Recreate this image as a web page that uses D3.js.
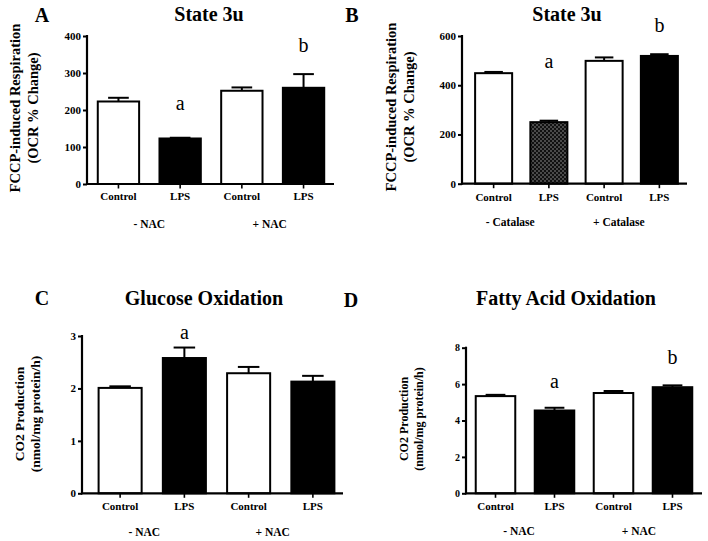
<!DOCTYPE html>
<html>
<head>
<meta charset="utf-8">
<script src="https://cdn.jsdelivr.net/npm/d3@7"></script>
<style>
  html, body { margin: 0; padding: 0; background: #fff; }
  svg { display: block; font-family: "Liberation Serif", "DejaVu Serif", serif; }
</style>
</head>
<body>
<svg id="chart" width="708" height="541"></svg>
<script>
// ---------------- data ----------------
const categories = ["Control", "LPS", "Control", "LPS"];

const titles = ["State 3u", "State 3u", "Glucose Oxidation", "Fatty Acid Oxidation"];
const panelLetters = ["A", "B", "C", "D"];
const groupsNAC = ["- NAC", "+ NAC"];
const groupsCatalase = ["- Catalase", "+ Catalase"];
const yLabelsA = ["FCCP-induced Respiration", "(OCR % Change)"];
const yLabelsC = ["CO2 Production", "(nmol/mg protein/h)"];

const ticksA = [0, 100, 200, 300, 400];
const ticksB = [0, 200, 400, 600];
const ticksC = [0, 1, 2, 3];
const ticksD = [0, 2, 4, 6, 8];

const meansA = [223, 123, 252, 260];
const errorsA = [10, 2, 9, 37];
const meansB = [449, 250, 499, 519];
const errorsB = [5, 6, 14, 7];
const meansC = [2.01, 2.58, 2.29, 2.13];
const errorsC = [0.03, 0.20, 0.12, 0.11];
const meansD = [5.34, 4.55, 5.51, 5.83];
const errorsD = [0.07, 0.15, 0.11, 0.10];

const fills = ["white", "black", "white", "black"];
const fillsB = ["white", "checker", "white", "black"];

const lettersA = ["", "a", "", "b"];
const lettersAAt = [0, 200, 0, 357];
const lettersB = ["", "a", "", "b"];
const lettersBAt = [0, 470, 0, 616];
const lettersC = ["", "a", "", ""];
const lettersCAt = [0, 2.94, 0, 0];
const lettersD = ["", "a", "", "b"];
const lettersDAt = [0, 5.78, 0, 7.1];

// ---------------- layout ----------------
const svg = d3.select("#chart");
const defs = svg.append("defs");
const pat = defs.append("pattern").attr("id", "checker")
  .attr("width", 4).attr("height", 4).attr("patternUnits", "userSpaceOnUse");
pat.append("rect").attr("width", 4).attr("height", 4).attr("fill", "#111");
pat.append("rect").attr("width", 2).attr("height", 2).attr("fill", "#4a4a4a");
pat.append("rect").attr("x", 2).attr("y", 2).attr("width", 2).attr("height", 2).attr("fill", "#4a4a4a");

const panels = [
  { means: meansA, errors: errorsA, ticks: ticksA, domain: [0, 400], fills: fills,
    letters: lettersA, lettersAt: lettersAAt, groups: groupsNAC, ylab: yLabelsA,
    axisX: 87, axisEnd: 334, band: [87.6, 334.4], yRange: [184, 36],
    title: titles[0], titleX: 209, titleY: 21, letter: panelLetters[0], letterX: 42, letterY: 22,
    ylabX: [20, 38], ylabY: 108, ylabSize: 14.5, tickSize: 11,
    catY: 200, groupY: 228, groupOff: [0, -3] },
  { means: meansB, errors: errorsB, ticks: ticksB, domain: [0, 600], fills: fillsB,
    letters: lettersB, lettersAt: lettersBAt, groups: groupsCatalase, ylab: yLabelsA,
    axisX: 462, axisEnd: 687, band: [466, 687], yRange: [183.7, 36],
    title: titles[1], titleX: 567, titleY: 21, letter: panelLetters[1], letterX: 352, letterY: 22,
    ylabX: [396, 414], ylabY: 107, ylabSize: 14.5, tickSize: 11,
    catY: 201, groupY: 226, groupOff: [-11, -13] },
  { means: meansC, errors: errorsC, ticks: ticksC, domain: [0, 3], fills: fills,
    letters: lettersC, lettersAt: lettersCAt, groups: groupsNAC, ylab: yLabelsC,
    axisX: 82, axisEnd: 343, band: [88, 345], yRange: [493.3, 336],
    title: titles[2], titleX: 204, titleY: 305, letter: panelLetters[2], letterX: 42, letterY: 305,
    ylabX: [24, 40], ylabY: 414, ylabSize: 13.5, tickSize: 11,
    catY: 510, groupY: 536, groupOff: [-8, -8] },
  { means: meansD, errors: errorsD, ticks: ticksD, domain: [0, 8], fills: fills,
    letters: lettersD, lettersAt: lettersDAt, groups: groupsNAC, ylab: yLabelsC,
    axisX: 466, axisEnd: 702, band: [466, 702], yRange: [493.3, 347.7],
    title: titles[3], titleX: 566, titleY: 305, letter: panelLetters[3], letterX: 351, letterY: 307,
    ylabX: [408, 423], ylabY: 419, ylabSize: 12, tickSize: 10,
    catY: 510, groupY: 535, groupOff: [-6, -4] }
];

panels.forEach(p => {
  const g = svg.append("g");
  const x = d3.scaleBand().domain(d3.range(categories.length))
    .range(p.band).paddingInner(0.33).paddingOuter(0.165);
  const y = d3.scaleLinear().domain(p.domain).range(p.yRange);
  const bw = x.bandwidth();

  // bars
  g.selectAll("rect.bar").data(p.means).join("rect")
    .attr("class", "bar")
    .attr("x", (d, i) => x(i))
    .attr("y", d => y(d))
    .attr("width", bw)
    .attr("height", d => y(0) - y(d))
    .attr("fill", (d, i) => p.fills[i] === "checker" ? "url(#checker)" : p.fills[i])
    .attr("stroke", "black").attr("stroke-width", 2);

  // error bars (upper only)
  p.means.forEach((m, i) => {
    const cx = x(i) + bw / 2;
    g.append("line").attr("x1", cx).attr("x2", cx)
      .attr("y1", y(m)).attr("y2", y(m + p.errors[i]))
      .attr("stroke", "black").attr("stroke-width", 2);
    g.append("line").attr("x1", cx - bw / 4).attr("x2", cx + bw / 4)
      .attr("y1", y(m + p.errors[i])).attr("y2", y(m + p.errors[i]))
      .attr("stroke", "black").attr("stroke-width", 2);
  });

  // y axis
  const yAxis = d3.axisLeft(y).tickValues(p.ticks).tickSize(4).tickPadding(2).tickSizeOuter(0)
    .tickFormat(d3.format("d"));
  const ya = g.append("g").attr("transform", `translate(${p.axisX},0)`).call(yAxis);
  ya.attr("font-family", null);
  ya.select(".domain").remove();
  ya.selectAll(".tick line").attr("stroke-width", 2);
  ya.selectAll(".tick text").attr("font-family", "Liberation Serif").attr("font-weight", "bold")
    .attr("font-size", p.tickSize).attr("fill", "black");
  g.append("line").attr("x1", p.axisX).attr("x2", p.axisX)
    .attr("y1", p.yRange[1] - 1).attr("y2", p.yRange[0] + 1)
    .attr("stroke", "black").attr("stroke-width", 2.2);

  // x axis
  g.append("line").attr("x1", p.axisX - 1).attr("x2", p.axisEnd)
    .attr("y1", p.yRange[0]).attr("y2", p.yRange[0])
    .attr("stroke", "black").attr("stroke-width", 2.2);
  categories.forEach((c, i) => {
    const cx = x(i) + bw / 2;
    g.append("line").attr("x1", cx).attr("x2", cx)
      .attr("y1", p.yRange[0]).attr("y2", p.yRange[0] + 4.5)
      .attr("stroke", "black").attr("stroke-width", 1.6);
    g.append("text").attr("x", cx).attr("y", p.catY)
      .attr("text-anchor", "middle").attr("font-weight", "bold").attr("font-size", 11)
      .text(c);
  });

  // group labels
  p.groups.forEach((t, gi) => {
    const cx = (x(gi * 2) + x(gi * 2 + 1) + bw) / 2 + p.groupOff[gi];
    g.append("text").attr("x", cx).attr("y", p.groupY)
      .attr("text-anchor", "middle").attr("font-weight", "bold").attr("font-size", 11.5)
      .text(t);
  });

  // significance letters
  p.letters.forEach((t, i) => {
    if (!t) return;
    g.append("text").attr("x", x(i) + bw / 2).attr("y", y(p.lettersAt[i]))
      .attr("text-anchor", "middle").attr("font-size", 20).text(t);
  });

  // title and panel letter
  g.append("text").attr("x", p.titleX).attr("y", p.titleY)
    .attr("text-anchor", "middle").attr("font-weight", "bold").attr("font-size", 20)
    .text(p.title);
  g.append("text").attr("x", p.letterX).attr("y", p.letterY)
    .attr("text-anchor", "middle").attr("font-weight", "bold").attr("font-size", 20)
    .text(p.letter);

  // y axis label
  p.ylab.forEach((t, li) => {
    g.append("text")
      .attr("transform", `translate(${p.ylabX[li]},${p.ylabY}) rotate(-90)`)
      .attr("text-anchor", "middle").attr("font-weight", "bold").attr("font-size", p.ylabSize)
      .text(t);
  });
});
</script>
</body>
</html>
